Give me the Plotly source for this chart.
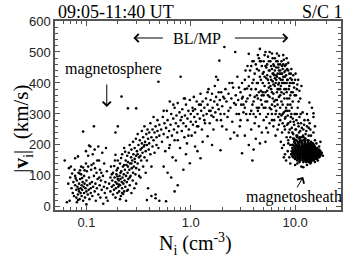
import plotly.graph_objects as go

# ---- data: (N_i [cm^-3], |v_i| [km/s]) ----
sphere_pts = [
    (0.065, 15), (0.062, 150), (0.068, 125), (0.07, 95), (0.072, 60), (0.074, 45), (0.075, 80), (0.076, 35),
    (0.078, 70), (0.078, 100), (0.08, 55), (0.08, 30), (0.081, 85), (0.082, 65), (0.083, 40), (0.084, 110),
    (0.085, 75), (0.085, 50), (0.086, 25), (0.087, 90), (0.088, 60), (0.088, 45), (0.089, 130), (0.09, 70),
    (0.09, 35), (0.091, 55), (0.092, 80), (0.093, 20), (0.094, 65), (0.095, 100), (0.095, 45), (0.096, 75),
    (0.097, 30), (0.098, 60), (0.1, 50), (0.1, 85), (0.101, 115), (0.102, 70), (0.103, 40), (0.104, 165),
    (0.105, 55), (0.106, 95), (0.107, 25), (0.108, 75), (0.109, 195), (0.11, 60), (0.11, 45), (0.112, 135),
    (0.113, 80), (0.114, 35), (0.115, 170), (0.116, 65), (0.118, 100), (0.118, 260), (0.12, 50), (0.12, 185),
    (0.122, 75), (0.123, 20), (0.125, 110), (0.126, 60), (0.128, 90), (0.13, 40), (0.13, 195), (0.132, 150),
    (0.134, 70), (0.135, 120), (0.136, 30), (0.138, 85), (0.14, 55), (0.142, 175), (0.144, 100), (0.145, 10),
    (0.147, 65), (0.148, 140), (0.15, 45), (0.152, 80), (0.154, 190), (0.155, 30), (0.157, 115), (0.158, 60),
    (0.079, 92), (0.083, 22), (0.087, 118), (0.091, 93), (0.084, 58), (0.086, 108), (0.081, 15), (0.093, 127),
    (0.077, 120), (0.089, 105), (0.096, 118), (0.099, 140), (0.073, 108), (0.071, 130), (0.069, 20), (0.067, 75),
    (0.1, 8), (0.104, 130), (0.111, 120), (0.117, 140), (0.121, 125), (0.127, 150), (0.133, 95), (0.139, 110),
    (0.078, 157), (0.083, 163), (0.093, 243), (0.099, 180), (0.106, 198),
]

low_pts = [
    (0.16, 20), (0.165, 75), (0.17, 95), (0.17, 50), (0.172, 130), (0.175, 65), (0.177, 85), (0.18, 40),
    (0.18, 110), (0.182, 70), (0.184, 55), (0.186, 95), (0.188, 150), (0.19, 80), (0.19, 30), (0.192, 60),
    (0.194, 105), (0.196, 75), (0.198, 45), (0.2, 90), (0.2, 125), (0.202, 65), (0.204, 85), (0.206, 50),
    (0.208, 100), (0.21, 70), (0.21, 140), (0.212, 90), (0.214, 35), (0.216, 115), (0.218, 80), (0.22, 60),
    (0.22, 170), (0.222, 95), (0.224, 130), (0.226, 75), (0.228, 105), (0.23, 50), (0.23, 190), (0.232, 85),
    (0.234, 120), (0.236, 65), (0.238, 150), (0.24, 100), (0.24, 20), (0.242, 135), (0.244, 80), (0.246, 165),
    (0.248, 110), (0.25, 55), (0.25, 145), (0.252, 90), (0.255, 175), (0.258, 120), (0.26, 70), (0.26, 200),
    (0.262, 140), (0.265, 100), (0.268, 160), (0.27, 45), (0.27, 185), (0.272, 125), (0.275, 150), (0.278, 85),
    (0.28, 210), (0.282, 170), (0.285, 130), (0.288, 60), (0.29, 190), (0.292, 145), (0.295, 105), (0.298, 220),
    (0.3, 165), (0.3, 75), (0.305, 180), (0.31, 140), (0.31, 235), (0.315, 200), (0.32, 120), (0.32, 160),
    (0.325, 215), (0.33, 185), (0.33, 95), (0.335, 150), (0.34, 205), (0.34, 245), (0.345, 175), (0.35, 130),
    (0.35, 225), (0.355, 195), (0.36, 160), (0.36, 260), (0.365, 210), (0.37, 180), (0.37, 110), (0.375, 235),
    (0.38, 200), (0.38, 150), (0.385, 250), (0.39, 220), (0.39, 60), (0.395, 185), (0.4, 240), (0.4, 205),
    (0.41, 170), (0.41, 270), (0.42, 225), (0.42, 130), (0.43, 250), (0.43, 195), (0.44, 215), (0.44, 290),
    (0.45, 240), (0.45, 175), (0.46, 260), (0.46, 40), (0.47, 225), (0.47, 200), (0.48, 280), (0.48, 245),
    (0.49, 190), (0.49, 404), (0.5, 230), (0.5, 265),
    (0.217, 356), (0.25, 318), (0.30, 318), (0.2, 260), (0.19, 240),
    (0.46, 28), (0.5, 20), (0.58, 18), (0.42, 35), (0.38, 22),
    (0.195, 118), (0.205, 72), (0.215, 158), (0.225, 42), (0.185, 132), (0.198, 98), (0.212, 110), (0.235, 178),
    (0.245, 52), (0.19, 168), (0.22, 45), (0.2, 150), (0.21, 25), (0.23, 135), (0.175, 105), (0.26, 95),
    (0.28, 110), (0.3, 125), (0.32, 100), (0.27, 140), (0.25, 130), (0.29, 155), (0.31, 170), (0.34, 190),
    (0.36, 200), (0.33, 165),
]

band_pts = [
    (0.52, 250), (0.53, 210), (0.54, 290), (0.55, 235), (0.56, 270), (0.57, 180), (0.58, 255), (0.59, 310),
    (0.6, 225), (0.6, 280), (0.62, 245), (0.63, 340), (0.63, 200), (0.64, 265), (0.65, 300), (0.66, 230),
    (0.67, 160), (0.68, 285), (0.69, 250), (0.7, 320), (0.7, 215), (0.72, 270), (0.73, 295), (0.74, 240),
    (0.75, 70), (0.75, 335), (0.76, 260), (0.78, 305), (0.79, 190), (0.8, 280), (0.8, 420), (0.82, 245),
    (0.83, 315), (0.85, 270), (0.86, 350), (0.87, 225), (0.88, 295), (0.9, 260), (0.9, 330), (0.92, 205),
    (0.93, 285), (0.95, 310), (0.96, 250), (0.98, 141), (0.98, 345), (1.0, 275), (1.0, 300), (1.02, 230),
    (1.04, 320), (1.05, 265), (1.07, 355), (1.08, 290), (1.1, 240), (1.1, 315), (1.12, 275), (1.14, 340),
    (1.16, 180), (1.16, 300), (1.18, 260), (1.2, 330), (1.22, 285), (1.24, 157), (1.24, 365), (1.26, 310),
    (1.28, 250), (1.3, 340), (1.32, 295), (1.35, 320), (1.37, 270), (1.4, 350), (1.42, 300), (1.45, 228),
    (1.45, 330), (1.48, 380), (1.5, 310), (1.52, 270), (1.55, 345), (1.58, 295), (1.6, 365), (1.62, 320),
    (1.65, 250), (1.68, 340), (1.7, 390), (1.72, 305), (1.75, 355), (1.78, 280), (1.8, 330), (1.82, 410),
    (1.85, 315), (1.88, 472), (1.9, 345), (1.93, 183), (1.93, 300), (1.96, 370), (2.0, 325), (2.0, 260),
    (2.05, 355), (2.1, 516), (2.1, 300), (2.15, 380), (2.2, 340), (2.25, 290), (2.3, 365), (2.35, 400),
    (2.4, 320), (2.45, 350), (2.5, 275), (2.55, 385), (2.6, 335), (2.67, 500), (2.7, 360), (2.75, 300),
    (2.8, 420), (2.85, 345), (2.9, 385), (2.95, 260), (3.0, 370), (3.05, 330), (3.1, 173), (3.1, 400),
    (3.15, 355), (3.2, 305), (3.3, 380), (3.35, 440), (3.4, 340), (3.47, 382), (3.5, 455),
    (0.55, 130), (0.6, 110), (0.65, 95), (0.7, 50), (0.85, 120), (1.3, 210), (1.6, 200), (2.4, 220),
    (0.72, 150), (0.9, 170), (1.1, 195), (2.8, 230),
    (0.55, 310), (0.62, 190), (0.68, 330), (0.75, 215), (0.82, 290), (0.88, 350), (0.95, 230), (1.05, 310),
    (1.15, 260), (1.25, 330), (1.35, 280), (1.45, 370), (1.55, 310), (1.65, 290), (1.75, 420), (1.85, 370),
    (1.95, 280), (2.1, 350), (2.3, 310), (2.5, 400), (2.7, 330), (2.9, 300), (3.1, 350), (3.3, 320),
    (2.2, 250), (2.6, 240), (3.0, 280),
]

blmp_pts = [
    (3.6, 494), (3.6, 420), (3.7, 360), (3.8, 455), (3.8, 310), (3.9, 400), (4.0, 470), (4.0, 340),
    (4.1, 430), (4.2, 380), (4.2, 290), (4.3, 445), (4.4, 400), (4.4, 350), (4.5, 480), (4.5, 320),
    (4.6, 510), (4.6, 420), (4.7, 375), (4.8, 455), (4.8, 330), (4.9, 400), (5.0, 470), (5.0, 360),
    (5.0, 435), (5.1, 390), (5.2, 500), (5.2, 340), (5.3, 450), (5.3, 415), (5.4, 375), (5.5, 485),
    (5.5, 300), (5.6, 440), (5.6, 400), (5.7, 355), (5.8, 470), (5.8, 420), (5.9, 380), (6.0, 495),
    (6.0, 445), (6.0, 330), (6.1, 405), (6.2, 460), (6.2, 365), (6.3, 425), (6.4, 480), (6.4, 390),
    (6.5, 345), (6.6, 450), (6.6, 410), (6.7, 370), (6.8, 470), (6.8, 430), (6.9, 395), (7.0, 488),
    (7.0, 355), (7.0, 440), (7.1, 415), (7.2, 460), (7.2, 380), (7.3, 430), (7.4, 340), (7.4, 470),
    (7.5, 400), (7.6, 445), (7.7, 420), (7.8, 365), (7.8, 475), (7.9, 435), (8.0, 400), (8.0, 455),
    (8.2, 380), (8.2, 425), (8.4, 445), (8.4, 350), (8.5, 410), (8.6, 465), (8.8, 390), (8.8, 430),
    (9.0, 415), (9.0, 360), (9.2, 445), (9.4, 400), (9.5, 370), (9.6, 425), (9.8, 385), (10.0, 410),
    (10.2, 360), (10.5, 395), (10.8, 340), (11.0, 375),
    (5.2, 455), (5.7, 440), (6.3, 455), (6.9, 450), (7.5, 455), (8.1, 440), (6.1, 430), (6.6, 425),
    (7.1, 430), (5.4, 425), (5.9, 410), (6.4, 415), (7.0, 400), (7.6, 410), (8.3, 400), (5.6, 385),
    (6.2, 395), (6.8, 380), (7.3, 390), (7.9, 380), (4.9, 370), (5.5, 360), (6.1, 350), (6.7, 345),
    (7.2, 360), (4.3, 360), (4.7, 345), (5.2, 320), (5.9, 315), (6.4, 325), (3.9, 330), (4.4, 310),
    (3.7, 300), (4.1, 270), (3.5, 280), (3.8, 250), (4.5, 260), (3.3, 230), (3.6, 200), (4.0, 185),
    (3.4, 300), (4.2, 220), (4.8, 240), (3.9, 150), (4.6, 205), (5.0, 280), (5.3, 255),
    (3.2, 330), (3.3, 410), (3.5, 350), (3.6, 390), (3.7, 440), (3.8, 380), (3.9, 470), (4.0, 300),
    (4.0, 410), (4.1, 355), (4.2, 460), (4.3, 320), (4.3, 400), (4.4, 490), (4.5, 440), (4.5, 370),
    (4.6, 300), (4.7, 470), (4.7, 410), (4.8, 360), (4.9, 430), (5.0, 320), (5.1, 490), (5.1, 420),
    (5.2, 370), (5.3, 290), (5.4, 460), (5.4, 340), (5.5, 410), (5.6, 470), (5.7, 320), (5.8, 390),
    (5.9, 455), (6.0, 370), (6.0, 280), (6.1, 480), (6.2, 430), (6.3, 340), (6.4, 440), (6.5, 400),
    (6.5, 300), (6.6, 470), (6.7, 420), (6.8, 330), (6.9, 460), (7.0, 380), (7.1, 300), (7.2, 440),
    (7.3, 410), (7.4, 370), (7.5, 430), (7.6, 330), (7.7, 460), (7.8, 400), (7.9, 350), (8.0, 420),
    (8.1, 310), (8.2, 460), (8.3, 370), (8.4, 410), (8.5, 330), (8.6, 440), (8.7, 380), (8.8, 350),
    (8.9, 400), (9.0, 330), (9.1, 430), (9.2, 370), (9.3, 410), (9.5, 340), (9.7, 400), (9.9, 360),
    (10.1, 430), (10.4, 380), (10.7, 410), (11.2, 350), (11.5, 390), (4.6, 470), (5.7, 500), (6.7, 495),
    (7.7, 490), (8.3, 480),
]

branch_pts = [
    (6.0, 300), (6.3, 280), (6.6, 310), (6.9, 290), (7.0, 265), (7.2, 320), (7.4, 295), (7.6, 270),
    (7.8, 305), (8.0, 285), (8.0, 250), (8.2, 320), (8.4, 265), (8.5, 295), (8.7, 240), (8.8, 310),
    (9.0, 275), (9.0, 225), (9.2, 300), (9.3, 255), (9.5, 285), (9.6, 235), (9.8, 265), (10.0, 300),
    (10.0, 215), (10.2, 250), (10.3, 280), (10.5, 230), (10.6, 320), (10.8, 260), (11.0, 210), (11.0, 290),
    (11.2, 245), (11.4, 270), (11.5, 225), (11.8, 305), (12.0, 250), (12.0, 215), (12.3, 280), (12.6, 235),
    (13.0, 260), (13.0, 300), (13.5, 230), (13.8, 270), (14.0, 250), (14.5, 320), (15.0, 290), (15.0, 240),
    (15.5, 260), (7.5, 240), (8.3, 225), (6.8, 250), (7.3, 210), (6.5, 230), (6.2, 260), (5.7, 270),
    (5.5, 240), (5.2, 210), (7.8, 200), (8.6, 205), (9.4, 200), (13.7, 337), (15.0, 302),
    (8.5, 180), (8.8, 160), (9.0, 200), (8.2, 150), (9.0, 140), (10.0, 135), (11.5, 130), (13.0, 135),
    (14.0, 140), (15.5, 145), (16.5, 150), (17.0, 195), (16.0, 205), (15.5, 215), (8.0, 170), (8.6, 215),
    (7.5, 190), (7.8, 160), (12.0, 128), (10.5, 140), (18.0, 175), (18.5, 165), (17.5, 210),
    (7.2, 280), (7.6, 300), (7.9, 260), (8.1, 290), (8.4, 310), (8.6, 270), (8.9, 250), (9.1, 290),
    (9.3, 320), (9.4, 240), (9.7, 275), (9.9, 300), (10.1, 250), (10.3, 230), (10.4, 300), (10.7, 270),
    (10.9, 240), (11.1, 225), (11.3, 300), (11.6, 255), (11.9, 230), (12.2, 265), (12.5, 220), (12.8, 245),
    (13.2, 215), (13.5, 255), (11.7, 205), (12.3, 200), (10.8, 200), (9.8, 220), (14.2, 230), (13.3, 280),
]

# magnetosheath core: rows of (|v_i|, densities N_i)
sheath_rows = [
    (145, [11.0, 12.0, 12.8, 13.5, 14.2]),
    (150, [10.5, 11.2, 11.9, 12.5, 13.1, 13.7, 14.4, 15.1]),
    (155, [10.0, 10.6, 11.2, 11.8, 12.4, 13.0, 13.6, 14.2, 14.8, 15.5, 16.2]),
    (160, [9.6, 10.2, 10.8, 11.4, 12.0, 12.6, 13.2, 13.8, 14.4, 15.0, 15.7, 16.4, 17.0]),
    (165, [9.4, 10.0, 10.6, 11.2, 11.8, 12.4, 13.0, 13.6, 14.2, 14.8, 15.4, 16.0, 16.7, 17.4]),
    (170, [9.2, 9.8, 10.4, 11.0, 11.6, 12.2, 12.8, 13.4, 14.0, 14.6, 15.2, 15.8, 16.5, 17.2, 17.8]),
    (175, [9.5, 10.1, 10.7, 11.3, 11.9, 12.5, 13.1, 13.7, 14.3, 14.9, 15.5, 16.2, 16.9, 17.6]),
    (180, [9.3, 9.9, 10.5, 11.1, 11.7, 12.3, 12.9, 13.5, 14.1, 14.7, 15.3, 16.0, 16.7, 17.4]),
    (185, [9.6, 10.2, 10.8, 11.4, 12.0, 12.6, 13.2, 13.8, 14.4, 15.0, 15.7, 16.4, 17.0]),
    (190, [9.4, 10.0, 10.6, 11.2, 11.8, 12.4, 13.0, 13.6, 14.2, 14.8, 15.5, 16.2]),
    (195, [9.8, 10.4, 11.0, 11.6, 12.2, 12.8, 13.4, 14.0, 14.7, 15.4]),
    (200, [9.5, 10.2, 10.9, 11.6, 12.3, 13.0, 13.7, 14.4, 15.1]),
    (205, [10.0, 10.8, 11.6, 12.4, 13.2, 14.0, 14.8]),
    (210, [9.8, 10.6, 11.5, 12.4, 13.3, 14.2]),
    (215, [10.3, 11.3, 12.3, 13.4]),
    (220, [9.6, 11.0, 12.5]),
    (225, [10.5, 12.0]),
]

x_tick_vals = [0.1, 1, 10]
x_tick_text = ["0.1", "1.0", "10.0"]


def unzip(pts):
    return [p[0] for p in pts], [p[1] for p in pts]


sheath_n = [n for v, ns in sheath_rows for n in ns]
sheath_v = [v for v, ns in sheath_rows for n in ns]

fig = go.Figure()
for pts in (sphere_pts, low_pts, band_pts, blmp_pts, branch_pts):
    xs, ys = unzip(pts)
    fig.add_trace(go.Scatter(x=xs, y=ys, mode="markers",
                             marker=dict(size=2.6, color="black", line=dict(width=0)),
                             showlegend=False, hoverinfo="skip"))
fig.add_trace(go.Scatter(x=sheath_n, y=sheath_v, mode="markers",
                         marker=dict(size=2.8, color="black", line=dict(width=0)),
                         showlegend=False, hoverinfo="skip"))

axis_col = "#555"
minor_x = [0.05, 0.06, 0.07, 0.08, 0.09] + [i / 10 for i in range(2, 10)] + list(range(2, 10)) + [20]

fig.update_xaxes(type="log", range=[-1.301, 1.44], tickvals=x_tick_vals, ticktext=x_tick_text,
                 ticks="inside", ticklen=5, tickwidth=1, tickcolor=axis_col,
                 showline=True, linecolor=axis_col, linewidth=1.5, mirror="ticks",
                 showgrid=False, zeroline=False,
                 minor=dict(tickvals=minor_x, ticks="inside", ticklen=3, tickcolor=axis_col, showgrid=False),
                 tickfont=dict(family="Liberation Sans", size=13, color="#222"))
fig.update_yaxes(range=[-10, 600], tick0=0, dtick=100,
                 ticks="inside", ticklen=5, tickwidth=1, tickcolor=axis_col,
                 showline=True, linecolor=axis_col, linewidth=1.5, mirror="ticks",
                 showgrid=False, zeroline=False,
                 minor=dict(dtick=20, ticks="inside", ticklen=3, tickcolor=axis_col, showgrid=False),
                 tickfont=dict(family="Liberation Sans", size=13, color="#222"))

serif = "Liberation Serif"


def text_ann(text, x, y, size, xanchor="center", yanchor="middle", **kw):
    return dict(text=text, x=x, y=y, xref="paper", yref="paper", xanchor=xanchor, yanchor=yanchor,
                showarrow=False, font=dict(family=serif, size=size, color="black"), **kw)


def arrow_ann(x, y, ax, ay):
    return dict(text="", x=x, y=y, xref="paper", yref="paper", ax=ax, ay=ay,
                showarrow=True, arrowhead=4, arrowsize=1.6, arrowwidth=1, arrowcolor="black")


ann = [
    text_ann("09:05-11:40 UT", 0.005, 1.0, 18, xanchor="left", yanchor="bottom", yshift=-3),
    text_ann("S/C 1", 1.0, 1.0, 18, xanchor="right", yanchor="bottom", yshift=-3, xshift=4),
    text_ann("BL/MP", 0.497, 0.910, 16),
    arrow_ann(0.274, 0.910, 31, 0),
    arrow_ann(0.816, 0.910, -55, 0),
    text_ann("magnetosphere", 0.205, 0.746, 16),
    arrow_ann(0.181, 0.545, 0, -24),
    text_ann("magnetosheath", 0.835, 0.069, 16),
    arrow_ann(0.868, 0.175, -7, 12),
    text_ann("N<sub>i</sub> (cm<sup>-3</sup>)", 0.493, -0.178, 20),
    text_ann("|<b>v</b><sub>i</sub>|  (km/s)", -0.115, 0.43, 21, textangle=-90),
]

fig.update_layout(width=349, height=258, margin=dict(l=55, r=6, t=21, b=48),
                  paper_bgcolor="white", plot_bgcolor="white", annotations=ann)

fig.write_html("out.html")
